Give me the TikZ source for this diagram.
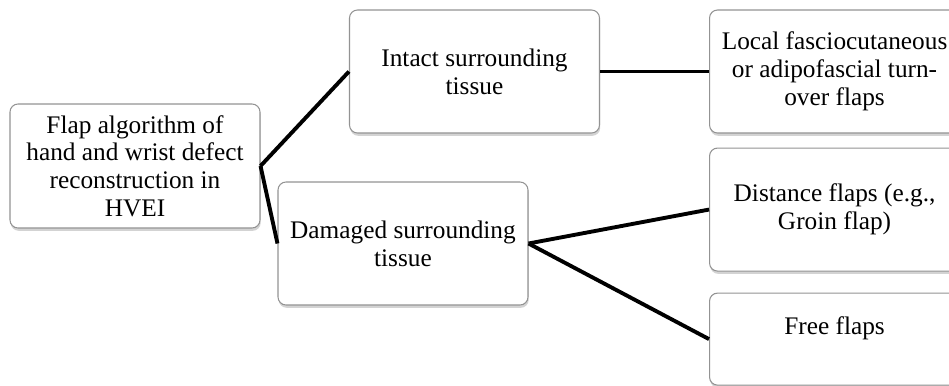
\documentclass[tikz,border=0pt]{standalone}
\usepackage{fontspec}
\setmainfont{Liberation Serif}
\usetikzlibrary{shadows,positioning}

\begin{document}
\begin{tikzpicture}[
    flapbox/.style={rectangle, rounded corners=0.16cm, draw=gray!85, line width=0.6pt, fill=white,
      drop shadow={shadow xshift=0.4pt, shadow yshift=-1.6pt, opacity=0.35},
      minimum width=5cm, minimum height=2.46cm, align=center, inner sep=1pt,
      font=\fontsize{14.4}{15.8}\selectfont},
    link/.style={line width=2.2pt, black}
  ]
    \useasboundingbox (0,0) rectangle (18.98,-7.7);
    \node(root) [flapbox, minimum height=2.48cm] at (2.7,-3.32) {Flap algorithm of\\hand and wrist defect\\reconstruction in\\HVEI};
    \node(intact) [flapbox] at (9.49,-1.43) {Intact surrounding\\tissue};
    \node(damaged) [flapbox] at (8.06,-4.87) {Damaged surrounding\\tissue};
    \node(local) [flapbox, right = 2.18cm of intact] {Local fasciocutaneous\\or adipofascial turn-\\over flaps};
    \node(distance) [flapbox, below = 0.28cm of local] {Distance flaps (e.g.,\\Groin flap)};
    \node(free) [flapbox, minimum height=1.84cm, below = 0.42cm of distance] {Free flaps\\\mbox{}};
    \draw[link] (root.east) -- (intact.west);
    \draw[link] (root.east) -- (damaged.west);
    \draw[link] (intact.east) -- (local.west);
    \draw[link] (damaged.east) -- (distance.west);
    \draw[link] (damaged.east) -- (free.west);
  \end{tikzpicture}
\end{document}
